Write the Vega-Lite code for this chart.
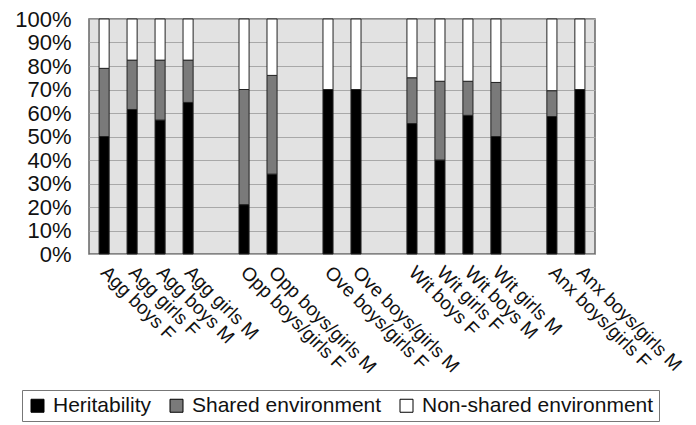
{
  "$schema": "https://vega.github.io/schema/vega-lite/v6.json",
  "width": 506,
  "height": 235,
  "autosize": {"type": "pad"},
  "padding": {"left": 14, "top": 8, "right": 0, "bottom": 0},
  "background": "white",
  "config": {
    "font": "Liberation Sans",
    "view": {"fill": "#e2e2e2", "stroke": "#666666", "strokeWidth": 1.5}
  },
  "data": {
    "values": [
      {"group": "Agg boys F", "component": "Heritability", "k": 1, "value": 50},
      {"group": "Agg boys F", "component": "Shared environment", "k": 2, "value": 29},
      {"group": "Agg boys F", "component": "Non-shared environment", "k": 3, "value": 21},
      {"group": "Agg girls F", "component": "Heritability", "k": 1, "value": 61.5},
      {"group": "Agg girls F", "component": "Shared environment", "k": 2, "value": 21},
      {"group": "Agg girls F", "component": "Non-shared environment", "k": 3, "value": 17.5},
      {"group": "Agg boys M", "component": "Heritability", "k": 1, "value": 57},
      {"group": "Agg boys M", "component": "Shared environment", "k": 2, "value": 25.5},
      {"group": "Agg boys M", "component": "Non-shared environment", "k": 3, "value": 17.5},
      {"group": "Agg girls M", "component": "Heritability", "k": 1, "value": 64.5},
      {"group": "Agg girls M", "component": "Shared environment", "k": 2, "value": 18},
      {"group": "Agg girls M", "component": "Non-shared environment", "k": 3, "value": 17.5},
      {"group": "Opp boys/girls F", "component": "Heritability", "k": 1, "value": 21},
      {"group": "Opp boys/girls F", "component": "Shared environment", "k": 2, "value": 49},
      {"group": "Opp boys/girls F", "component": "Non-shared environment", "k": 3, "value": 30},
      {"group": "Opp boys/girls M", "component": "Heritability", "k": 1, "value": 34},
      {"group": "Opp boys/girls M", "component": "Shared environment", "k": 2, "value": 42},
      {"group": "Opp boys/girls M", "component": "Non-shared environment", "k": 3, "value": 24},
      {"group": "Ove boys/girls F", "component": "Heritability", "k": 1, "value": 70},
      {"group": "Ove boys/girls F", "component": "Shared environment", "k": 2, "value": 0},
      {"group": "Ove boys/girls F", "component": "Non-shared environment", "k": 3, "value": 30},
      {"group": "Ove boys/girls M", "component": "Heritability", "k": 1, "value": 70},
      {"group": "Ove boys/girls M", "component": "Shared environment", "k": 2, "value": 0},
      {"group": "Ove boys/girls M", "component": "Non-shared environment", "k": 3, "value": 30},
      {"group": "Wit boys F", "component": "Heritability", "k": 1, "value": 55.5},
      {"group": "Wit boys F", "component": "Shared environment", "k": 2, "value": 19.5},
      {"group": "Wit boys F", "component": "Non-shared environment", "k": 3, "value": 25},
      {"group": "Wit girls F", "component": "Heritability", "k": 1, "value": 40},
      {"group": "Wit girls F", "component": "Shared environment", "k": 2, "value": 33.5},
      {"group": "Wit girls F", "component": "Non-shared environment", "k": 3, "value": 26.5},
      {"group": "Wit boys M", "component": "Heritability", "k": 1, "value": 59},
      {"group": "Wit boys M", "component": "Shared environment", "k": 2, "value": 14.5},
      {"group": "Wit boys M", "component": "Non-shared environment", "k": 3, "value": 26.5},
      {"group": "Wit girls M", "component": "Heritability", "k": 1, "value": 50},
      {"group": "Wit girls M", "component": "Shared environment", "k": 2, "value": 23},
      {"group": "Wit girls M", "component": "Non-shared environment", "k": 3, "value": 27},
      {"group": "Anx boys/girls F", "component": "Heritability", "k": 1, "value": 58.5},
      {"group": "Anx boys/girls F", "component": "Shared environment", "k": 2, "value": 11},
      {"group": "Anx boys/girls F", "component": "Non-shared environment", "k": 3, "value": 30.5},
      {"group": "Anx boys/girls M", "component": "Heritability", "k": 1, "value": 70},
      {"group": "Anx boys/girls M", "component": "Shared environment", "k": 2, "value": 0},
      {"group": "Anx boys/girls M", "component": "Non-shared environment", "k": 3, "value": 30}
    ]
  },
  "mark": {"type": "bar", "stroke": "#222222", "strokeWidth": 1},
  "encoding": {
    "x": {
      "field": "group",
      "type": "nominal",
      "sort": null,
      "scale": {
        "domain": ["Agg boys F", "Agg girls F", "Agg boys M", "Agg girls M", "gap1", "Opp boys/girls F", "Opp boys/girls M", "gap2", "Ove boys/girls F", "Ove boys/girls M", "gap3", "Wit boys F", "Wit girls F", "Wit boys M", "Wit girls M", "gap4", "Anx boys/girls F", "Anx boys/girls M"],
        "paddingInner": 0.64,
        "paddingOuter": 0.36
      },
      "axis": {
        "title": null,
        "labelAngle": 45,
        "labelAlign": "left",
        "labelBaseline": "middle",
        "labelFontSize": 19,
        "labelColor": "#111111",
        "labelPadding": 15,
        "labelLimit": 0,
        "ticks": false,
        "domain": false,
        "labelExpr": "indexof(datum.value, 'gap') == 0 ? '' : datum.value"
      }
    },
    "y": {
      "field": "value",
      "type": "quantitative",
      "stack": "zero",
      "scale": {"domain": [0, 100], "nice": false},
      "axis": {
        "title": null,
        "values": [0, 10, 20, 30, 40, 50, 60, 70, 80, 90, 100],
        "labelExpr": "datum.value + '%'",
        "labelFontSize": 22,
        "labelColor": "#111111",
        "labelPadding": 18,
        "ticks": false,
        "domain": false,
        "gridColor": "#a8a8a8",
        "gridWidth": 1
      }
    },
    "color": {
      "field": "component",
      "type": "nominal",
      "scale": {
        "domain": ["Heritability", "Shared environment", "Non-shared environment"],
        "range": ["#000000", "#7a7a7a", "#ffffff"]
      },
      "legend": {
        "title": null,
        "orient": "none",
        "legendX": -67,
        "legendY": 371,
        "direction": "horizontal",
        "symbolType": "square",
        "symbolSize": 169,
        "symbolStrokeColor": "#000000",
        "symbolStrokeWidth": 1,
        "labelFontSize": 21,
        "labelColor": "#111111",
        "labelOffset": 5,
        "labelLimit": 0,
        "columnPadding": 14,
        "strokeColor": "#777777",
        "padding": 5
      }
    },
    "order": {"field": "k", "type": "quantitative"}
  }
}
